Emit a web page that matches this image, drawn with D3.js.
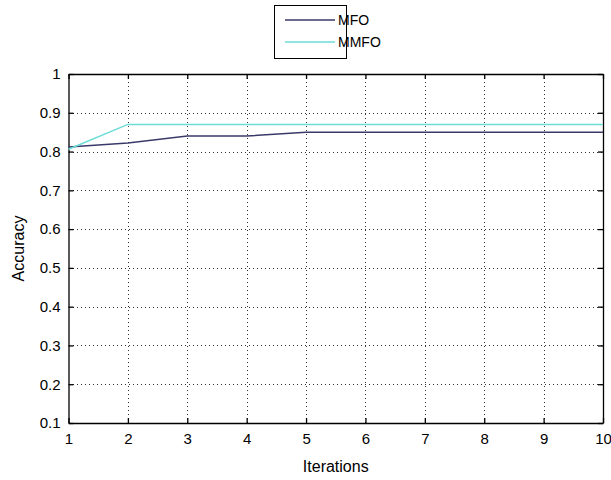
<!DOCTYPE html>
<html>
<head>
<meta charset="utf-8">
<script src="https://cdn.jsdelivr.net/npm/d3@7"></script>
<style>
  body { margin: 0; background: #fff; }
  text { font-family: 'Liberation Sans', Arial, sans-serif; }
</style>
</head>
<body>
<svg id="chart" width="611" height="480"></svg>
<script>
const iterations = [1, 2, 3, 4, 5, 6, 7, 8, 9, 10];
const mfo = [0.812, 0.822, 0.84, 0.84, 0.85, 0.85, 0.85, 0.85, 0.85, 0.85];
const mmfo = [0.806, 0.87, 0.87, 0.87, 0.87, 0.87, 0.87, 0.87, 0.87, 0.87];
const yTicks = [0.1, 0.2, 0.3, 0.4, 0.5, 0.6, 0.7, 0.8, 0.9, 1];
const seriesNames = ['MFO', 'MMFO'];
const seriesColors = ['#3a3a6a', '#6cdcd6'];

const svg = d3.select('#chart');
const margin = { left: 68.5, right: 8, top: 74, bottom: 57 };
const width = 611, height = 480;

const x = d3.scaleLinear().domain([1, 10]).range([margin.left, width - margin.right]);
const y = d3.scaleLinear().domain([0.1, 1]).range([height - margin.bottom, margin.top]);

// grid
const grid = svg.append('g').attr('stroke', '#333').attr('stroke-width', 1)
  .attr('stroke-dasharray', '1,3').attr('shape-rendering', 'crispEdges');
grid.selectAll('.gx').data(iterations.slice(1, -1)).enter().append('line')
  .attr('x1', d => Math.round(x(d)) + 0.5).attr('x2', d => Math.round(x(d)) + 0.5)
  .attr('y1', y(1)).attr('y2', y(0.1));
grid.selectAll('.gy').data(yTicks.slice(1, -1)).enter().append('line')
  .attr('y1', d => Math.round(y(d)) + 0.5).attr('y2', d => Math.round(y(d)) + 0.5)
  .attr('x1', x(1)).attr('x2', x(10));

// axes with inward ticks
const tickSize = 5;
svg.append('g').attr('transform', `translate(0,${y(0.1)})`)
  .call(d3.axisBottom(x).tickValues(iterations).tickSizeInner(-tickSize).tickSizeOuter(0).tickPadding(10))
  .call(g => g.selectAll('text').attr('font-size', 15).attr('fill', '#000'));
svg.append('g').attr('transform', `translate(0,${y(1)})`)
  .call(d3.axisTop(x).tickValues(iterations).tickSizeInner(-tickSize).tickSizeOuter(0).tickFormat(''));
svg.append('g').attr('transform', `translate(${x(1)},0)`)
  .call(d3.axisLeft(y).tickValues(yTicks).tickSizeInner(-tickSize).tickSizeOuter(0).tickPadding(8)
    .tickFormat(d => d === 1 ? '1' : d3.format('.1f')(d)))
  .call(g => g.selectAll('text').attr('font-size', 15).attr('fill', '#000'));
svg.append('g').attr('transform', `translate(${x(10)},0)`)
  .call(d3.axisRight(y).tickValues(yTicks).tickSizeInner(-tickSize).tickSizeOuter(0).tickFormat(''));
svg.selectAll('.domain').attr('stroke', '#000').attr('stroke-width', 1.3);
svg.selectAll('.tick line').attr('stroke', '#000').attr('stroke-width', 1.3);

// lines
const line = d3.line().x((d, i) => x(iterations[i])).y(d => y(d));
[mfo, mmfo].forEach((s, k) => {
  svg.append('path').datum(s).attr('d', line).attr('fill', 'none')
    .attr('stroke', seriesColors[k]).attr('stroke-width', 1.5);
});

// labels
svg.append('text').attr('x', x(5.5)).attr('y', 472).attr('text-anchor', 'middle')
  .attr('font-size', 16).text('Iterations');
svg.append('text').attr('transform', `translate(24,${y(0.55)}) rotate(-90)`)
  .attr('text-anchor', 'middle').attr('font-size', 16).text('Accuracy');

// legend
const lg = svg.append('g');
lg.append('rect').attr('x', 274.5).attr('y', 5.5).attr('width', 72).attr('height', 53)
  .attr('fill', '#fff').attr('stroke', '#000').attr('stroke-width', 1);
seriesNames.forEach((n, k) => {
  const ly = 20 + k * 22;
  lg.append('line').attr('x1', 285).attr('x2', 335).attr('y1', ly).attr('y2', ly)
    .attr('stroke', seriesColors[k]).attr('stroke-width', 1.5);
  lg.append('text').attr('x', 338).attr('y', ly + 5).attr('font-size', 14).text(n);
});
</script>
</body>
</html>
